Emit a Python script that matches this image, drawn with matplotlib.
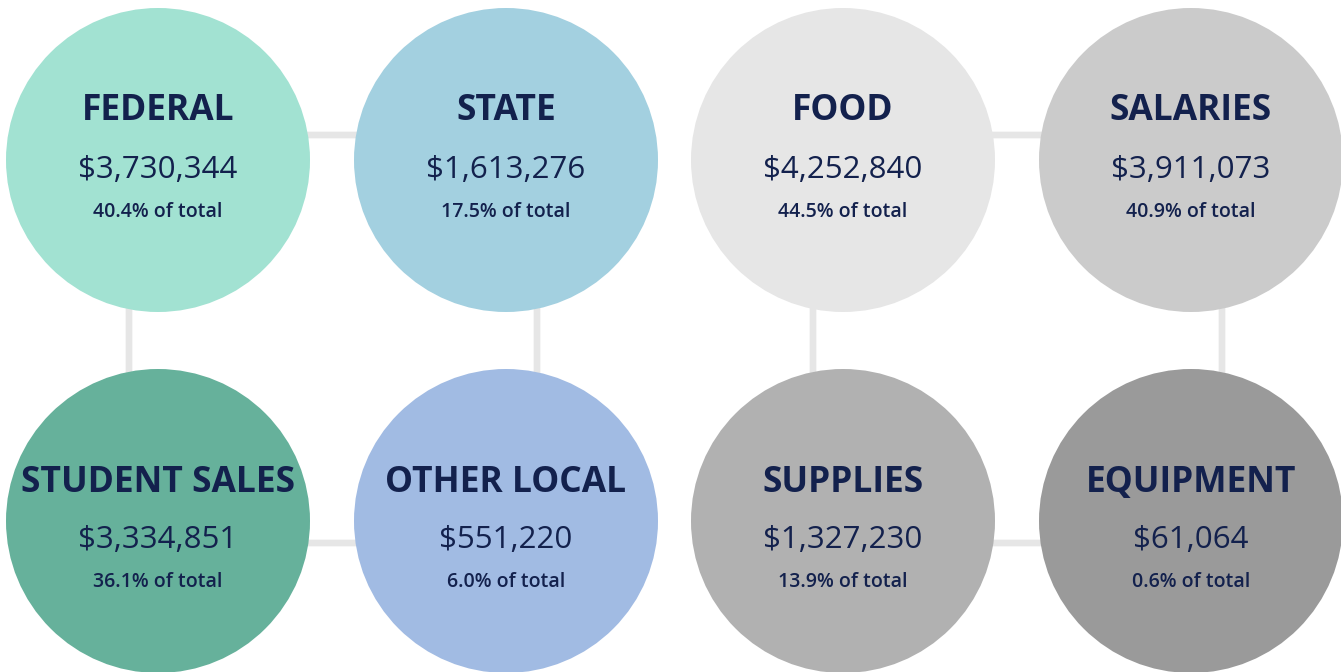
import matplotlib.pyplot as plt
from matplotlib.patches import Circle, FancyBboxPatch

#
# Data
#

revenue_names = ["FEDERAL", "STATE", "STUDENT SALES", "OTHER LOCAL"]
revenue_amounts = [3730344, 1613276, 3334851, 551220]
revenue_pcts = [40.4, 17.5, 36.1, 6.0]

expense_names = ["FOOD", "SALARIES", "SUPPLIES", "EQUIPMENT"]
expense_amounts = [4252840, 3911073, 1327230, 61064]
expense_pcts = [44.5, 40.9, 13.9, 0.6]

revenue_colors = ["#a2e2d2", "#a3d0e0", "#66b19b", "#a1bbe3"]
expense_colors = ["#e6e6e6", "#cbcbcb", "#b1b1b1", "#9a9a9a"]

#
# Layout (pixels, y downward)
#

W, H = 1341, 672
radius = 152
group_x = [(158, 506), (843, 1191)]
row_y = [160, 521]
# text offsets from circle centre for each row: title, amount, pct
text_off = [(-49, 10, 52), (-38, 19, 61)]
text_color = "#13214d"
link_color = "#e6e6e6"

plt.rcParams["font.family"] = ["Open Sans", "DejaVu Sans"]

fig = plt.figure(figsize=(W / 100, H / 100), dpi=100)
ax = fig.add_axes([0, 0, 1, 1])
ax.set_xlim(0, W)
ax.set_ylim(H, 0)
ax.set_aspect("equal")
ax.axis("off")

groups = [
    (revenue_names, revenue_amounts, revenue_pcts, revenue_colors),
    (expense_names, expense_amounts, expense_pcts, expense_colors),
]

for gi, (names, amounts, pcts, colors) in enumerate(groups):
    x0, x1 = group_x[gi]
    # connector frame behind the circles
    left = x0 - 29 if gi == 0 else x0 - 30
    right = x1 + 31
    frame = FancyBboxPatch((left, 135), right - left, 408,
                           boxstyle="round,pad=0,rounding_size=60",
                           fill=False, edgecolor=link_color, linewidth=4.8,
                           zorder=1)
    ax.add_patch(frame)

    for i in range(4):
        cx = group_x[gi][i % 2]
        cy = row_y[i // 2]
        ax.add_patch(Circle((cx, cy), radius, facecolor=colors[i],
                            edgecolor="none", zorder=2))
        dt, da, dp = text_off[i // 2]
        ax.text(cx, cy + dt, names[i], ha="center", va="center",
                fontsize=25.5, fontweight="bold", color=text_color, zorder=3)
        ax.text(cx, cy + da, "${:,.0f}".format(amounts[i]), ha="center",
                va="center", fontsize=22.5, color=text_color, zorder=3)
        ax.text(cx, cy + dp, "{:.1f}% of total".format(pcts[i]), ha="center",
                va="center", fontsize=14, fontweight="semibold",
                color=text_color, zorder=3)

fig.savefig("out.png", dpi=100)
